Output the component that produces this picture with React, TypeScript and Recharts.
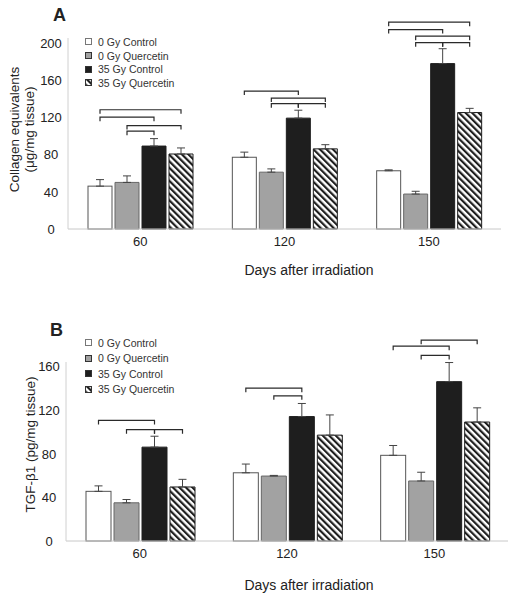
import { BarChart, Bar, XAxis, YAxis, ErrorBar } from 'recharts';

const days = ['60', '120', '150'];
const groups = ['0 Gy Control', '0 Gy Quercetin', '35 Gy Control', '35 Gy Quercetin'];

// Panel A - collagen equivalents (µg/mg tissue)
const collagenCtrl0 = [46, 77, 62.5];
const collagenQuer0 = [50, 61, 37.5];
const collagenCtrl35 = [89, 119, 177.5];
const collagenQuer35 = [80.5, 86, 125];
const collagenCtrl0Err = [7, 5.5, 1];
const collagenQuer0Err = [7, 3.5, 3];
const collagenCtrl35Err = [8, 8.5, 16];
const collagenQuer35Err = [6.5, 4.5, 4.5];
const collagenTicks = [0, 40, 80, 120, 160, 200];
// significance brackets: [day index, from group, to group, level]
const collagenBrackets = [
  [0, 0, 3, 128], [0, 0, 2, 120], [0, 1, 3, 111], [0, 1, 2, 105],
  [1, 0, 2, 148], [1, 1, 3, 140.5], [1, 1, 2, 134.5], [1, 2, 3, 134.5],
  [2, 0, 3, 222], [2, 0, 2, 214], [2, 1, 3, 207], [2, 1, 2, 200], [2, 2, 3, 200],
];

// Panel B - TGF-β1 (pg/mg tissue)
const tgfCtrl0 = [45.5, 62.5, 78.5];
const tgfQuer0 = [35, 59.5, 55];
const tgfCtrl35 = [86, 114, 146];
const tgfQuer35 = [49.5, 97, 109];
const tgfCtrl0Err = [5, 8, 9];
const tgfQuer0Err = [3, 0.6, 8];
const tgfCtrl35Err = [10, 12, 17.5];
const tgfQuer35Err = [7, 18.5, 13];
const tgfTicks = [0, 40, 80, 120, 160];
const tgfBrackets = [
  [0, 0, 2, 110.5], [0, 1, 2, 102], [0, 2, 3, 102],
  [1, 0, 2, 140], [1, 1, 2, 133],
  [2, 1, 3, 184], [2, 0, 2, 178.5], [2, 1, 2, 170],
];

const FONT = '"Liberation Sans", Arial, sans-serif';
const BAR_GAP = 3;
const fills = ['#ffffff', '#a2a2a2', '#1e1e1e', 'url(#hatch)'];
const strokes = ['#555555', '#666666', '#1e1e1e', '#1e1e1e'];

const makeRows = (vals: number[][], errs: number[][]) =>
  days.map((day, i) => ({
    day,
    s0: vals[0][i], s1: vals[1][i], s2: vals[2][i], s3: vals[3][i],
    e0: [0, errs[0][i]], e1: [0, errs[1][i]], e2: [0, errs[2][i]], e3: [0, errs[3][i]],
  }));

const collagenRows = makeRows(
  [collagenCtrl0, collagenQuer0, collagenCtrl35, collagenQuer35],
  [collagenCtrl0Err, collagenQuer0Err, collagenCtrl35Err, collagenQuer35Err]
);
const tgfRows = makeRows(
  [tgfCtrl0, tgfQuer0, tgfCtrl35, tgfQuer35],
  [tgfCtrl0Err, tgfQuer0Err, tgfCtrl35Err, tgfQuer35Err]
);

// first bar of each group also draws the comparison brackets, scaled from its own height/value
const bracketShape = (brackets: number[][]) => (props: any) => {
  const { x, y, width, height, fill, stroke, index, payload } = props;
  const base = y + height;
  const perUnit = height / payload.s0;
  const step = width + BAR_GAP;
  return (
    <g>
      <rect x={x} y={y} width={width} height={height} fill={fill} stroke={stroke} strokeWidth={1} />
      {brackets.filter((b) => b[0] === index).map((b, k) => {
        const x1 = x + width / 2 + b[1] * step;
        const x2 = x + width / 2 + b[2] * step;
        const yy = base - b[3] * perUnit;
        return (
          <path key={k} d={`M${x1},${yy + 4}V${yy}H${x2}V${yy + 4}`} fill="none" stroke="#2a2a2a" strokeWidth={1.2} />
        );
      })}
    </g>
  );
};

const YTick = ({ x, y, payload }: any) => (
  <text x={x - 9} y={y} dy={5} textAnchor="middle" fontSize={13} fill="#222" fontFamily={FONT}>
    {payload.value}
  </text>
);

const LegendBox = ({ top, rowH }: { top: number; rowH: number }) => (
  <div style={{ position: 'absolute', left: 85, top, fontFamily: FONT, fontSize: 10.5, color: '#333' }}>
    {groups.map((g, i) => (
      <div key={g} style={{ height: rowH, display: 'flex', alignItems: 'center' }}>
        <svg width={7} height={7} style={{ marginRight: 6 }}>
          <rect x={0.5} y={0.5} width={6} height={6} fill={fills[i]} stroke={i === 0 ? '#777' : '#333'} strokeWidth={1} />
        </svg>
        {g}
      </div>
    ))}
  </div>
);

interface PanelProps {
  rows: any[];
  brackets: number[][];
  ticks: number[];
  domain: [number, number];
  height: number;
  margin: { top: number; right: number; bottom: number; left: number };
  yWidth: number;
  yLabel: (vb: any) => any;
}

function Panel({ rows, brackets, ticks, domain, height, margin, yWidth, yLabel }: PanelProps) {
  return (
    <BarChart width={513} height={height} data={rows} margin={margin} barGap={BAR_GAP} barCategoryGap={20}>
      <XAxis
        dataKey="day"
        height={30}
        tickLine={false}
        axisLine={{ stroke: '#c8c8c8' }}
        tick={{ fontSize: 13, fill: '#222', fontFamily: FONT }}
      />
      <YAxis
        width={yWidth}
        domain={domain}
        ticks={ticks}
        tickLine={false}
        axisLine={{ stroke: '#d0d0d0' }}
        tick={<YTick />}
        label={(p: any) => yLabel(p.viewBox)}
      />
      {[0, 1, 2, 3].map((i) => (
        <Bar
          key={i}
          dataKey={`s${i}`}
          fill={fills[i]}
          stroke={strokes[i]}
          strokeWidth={1}
          isAnimationActive={false}
          shape={i === 0 ? bracketShape(brackets) : undefined}
        >
          <ErrorBar dataKey={`e${i}`} direction="y" width={4} stroke="#444" strokeWidth={1} />
        </Bar>
      ))}
    </BarChart>
  );
}

export default function App() {
  return (
    <div style={{ position: 'absolute', left: 0, top: 0, width: 513, height: 600, background: '#fff', fontFamily: FONT }}>
      <svg width={0} height={0} style={{ position: 'absolute' }}>
        <defs>
          <pattern id="hatch" patternUnits="userSpaceOnUse" width={4.6} height={4.6} patternTransform="rotate(-45)">
            <rect x={0} y={0} width={4.6} height={4.6} fill="#ffffff" />
            <rect x={0} y={0} width={2.2} height={4.6} fill="#1e1e1e" />
          </pattern>
        </defs>
      </svg>

      <div style={{ position: 'absolute', left: 0, top: 0 }}>
        <Panel
          rows={collagenRows}
          brackets={collagenBrackets}
          ticks={collagenTicks}
          domain={[0, 205]}
          height={290}
          margin={{ top: 38, right: 12, bottom: 31, left: 0 }}
          yWidth={68}
          yLabel={(vb: any) => {
            const cy = vb.y + vb.height / 2 - 4;
            return (
              <g fontFamily={FONT} fontSize={13.5} fill="#222">
                <text x={14} y={cy} textAnchor="middle" dominantBaseline="central" transform={`rotate(-90, 14, ${cy})`}>
                  Collagen equivalents
                </text>
                <text x={29} y={cy} textAnchor="middle" dominantBaseline="central" transform={`rotate(-90, 29, ${cy})`}>
                  (μg/mg tissue)
                </text>
              </g>
            );
          }}
        />
      </div>
      <div style={{ position: 'absolute', left: 0, top: 290 }}>
        <Panel
          rows={tgfRows}
          brackets={tgfBrackets}
          ticks={tgfTicks}
          domain={[0, 164]}
          height={310}
          margin={{ top: 72, right: 5, bottom: 29, left: 0 }}
          yWidth={66}
          yLabel={(vb: any) => {
            const cy = vb.y + vb.height / 2 - 7;
            return (
              <text x={30} y={cy} textAnchor="middle" dominantBaseline="central" fontFamily={FONT} fontSize={13.5} fill="#222"
                transform={`rotate(-90, 30, ${cy})`}>
                TGF-β1 (pg/mg tissue)
              </text>
            );
          }}
        />
      </div>

      <div style={{ position: 'absolute', left: 53, top: 5, fontSize: 18, fontWeight: 'bold', color: '#222' }}>A</div>
      <div style={{ position: 'absolute', left: 50, top: 320, fontSize: 18, fontWeight: 'bold', color: '#222' }}>B</div>
      <LegendBox top={35} rowH={13.7} />
      <LegendBox top={335} rowH={15.5} />
      <div style={{ position: 'absolute', left: 243, top: 262, width: 132, textAlign: 'center', fontSize: 14, color: '#222', whiteSpace: 'nowrap' }}>
        Days after irradiation
      </div>
      <div style={{ position: 'absolute', left: 243, top: 577, width: 132, textAlign: 'center', fontSize: 14, color: '#222', whiteSpace: 'nowrap' }}>
        Days after irradiation
      </div>
    </div>
  );
}
